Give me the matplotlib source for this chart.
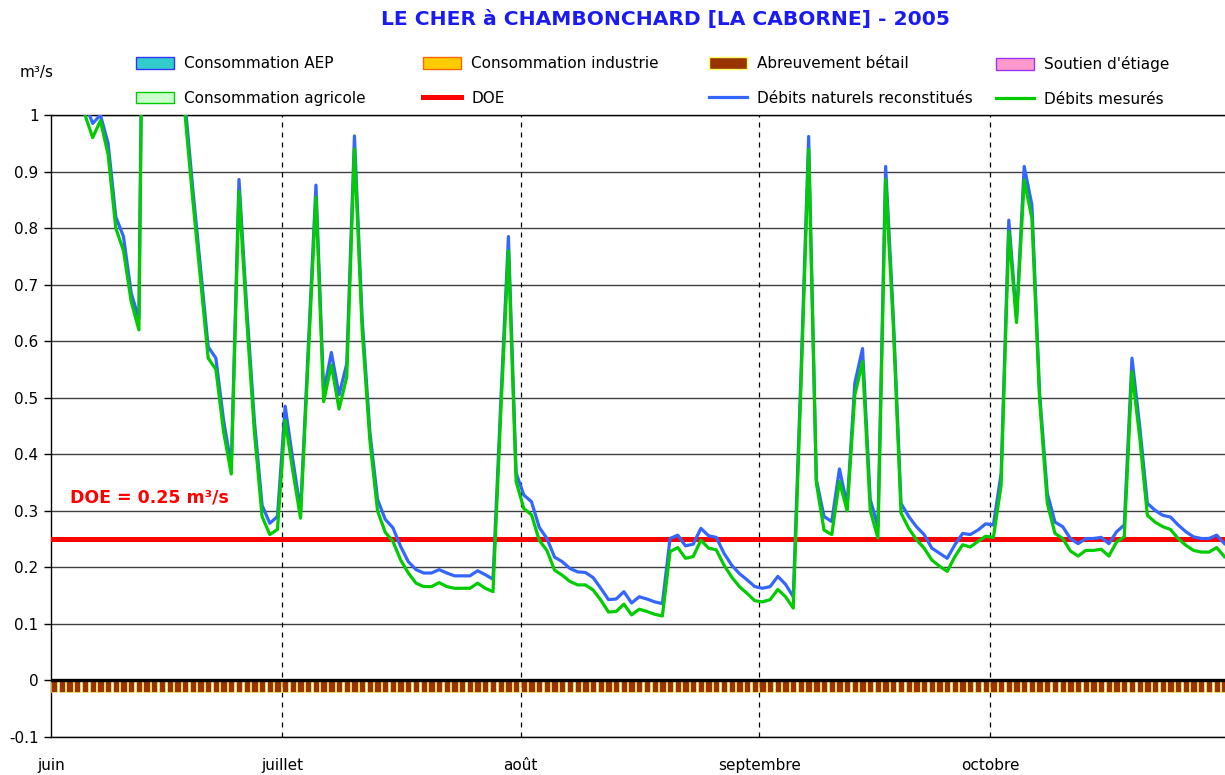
import matplotlib
matplotlib.use("Agg")
import matplotlib.pyplot as plt
import matplotlib.ticker as mticker
from matplotlib.patches import Patch
from matplotlib.lines import Line2D
import pandas as pd

# ── Data ──────────────────────────────────────────────────────────────────────
days = pd.date_range("2005-06-01", "2005-10-31", freq="D") + pd.Timedelta(hours=10)

debits_mesures = [
    1.45, 1.30, 1.18, 1.08, 1.00, 0.96, 0.99, 0.93, 0.80, 0.76,
    0.67, 0.62, 1.90, 2.30, 1.80, 1.45, 1.20, 1.00, 0.85, 0.71,
    0.57, 0.55, 0.44, 0.365, 0.865, 0.64, 0.44, 0.29, 0.258, 0.267,
    0.46, 0.37, 0.287, 0.57, 0.855, 0.493, 0.558, 0.48, 0.537, 0.94,
    0.62, 0.425, 0.30, 0.262, 0.246, 0.213, 0.19, 0.172, 0.166, 0.166,
    0.173, 0.166, 0.163, 0.163, 0.163, 0.172, 0.163, 0.157, 0.47, 0.76,
    0.352, 0.304, 0.293, 0.248, 0.23, 0.195, 0.186, 0.175, 0.169, 0.169,
    0.16, 0.142, 0.121, 0.122, 0.135, 0.116, 0.126, 0.122, 0.117, 0.114,
    0.228, 0.235, 0.216, 0.219, 0.248, 0.234, 0.231, 0.204, 0.183, 0.166,
    0.154, 0.141, 0.139, 0.143, 0.161, 0.148, 0.128, 0.52, 0.939, 0.349,
    0.266, 0.258, 0.352, 0.30, 0.505, 0.564, 0.30, 0.252, 0.886, 0.626,
    0.296, 0.269, 0.249, 0.234, 0.213, 0.202, 0.193, 0.219, 0.24, 0.236,
    0.246, 0.255, 0.253, 0.345, 0.794, 0.633, 0.885, 0.817, 0.496, 0.313,
    0.26, 0.251, 0.229, 0.22, 0.23, 0.23, 0.232, 0.22, 0.245, 0.254,
    0.546, 0.43, 0.292, 0.28, 0.272, 0.267, 0.251, 0.239, 0.23, 0.227,
    0.227, 0.235, 0.219,
]

debits_naturels = [
    1.48, 1.33, 1.21, 1.11, 1.02, 0.985, 1.00, 0.95, 0.82, 0.785,
    0.685, 0.64, 1.93, 2.33, 1.83, 1.48, 1.23, 1.02, 0.87, 0.73,
    0.59, 0.57, 0.46, 0.38, 0.886, 0.66, 0.46, 0.31, 0.278, 0.29,
    0.485, 0.39, 0.30, 0.59, 0.876, 0.51, 0.58, 0.505, 0.56, 0.963,
    0.64, 0.44, 0.32, 0.285, 0.27, 0.237, 0.21, 0.196, 0.19, 0.19,
    0.196, 0.19, 0.185, 0.185, 0.185, 0.194, 0.187, 0.179, 0.49, 0.785,
    0.367, 0.328, 0.316, 0.271, 0.251, 0.218, 0.21, 0.198, 0.192, 0.191,
    0.182, 0.163, 0.143, 0.144, 0.157, 0.137, 0.148, 0.144, 0.139, 0.136,
    0.251, 0.257, 0.238, 0.241, 0.269, 0.256, 0.253, 0.225, 0.204, 0.189,
    0.178, 0.166, 0.163, 0.166, 0.184, 0.17, 0.148, 0.54, 0.962, 0.355,
    0.29, 0.281, 0.374, 0.31, 0.526, 0.587, 0.32, 0.272, 0.909, 0.643,
    0.313, 0.29, 0.272, 0.258, 0.234, 0.225, 0.216, 0.24, 0.26, 0.258,
    0.266, 0.277, 0.275, 0.366, 0.814, 0.64, 0.909, 0.841, 0.508, 0.331,
    0.28, 0.272, 0.251, 0.242, 0.251, 0.251, 0.253, 0.242, 0.263, 0.275,
    0.57, 0.45, 0.313, 0.301, 0.292, 0.289, 0.275, 0.263, 0.254, 0.251,
    0.251, 0.257, 0.242,
]

abreuvement_betail = [-0.0205] * len(days)
doe = 0.25

month_starts = pd.to_datetime(["2005-06-01", "2005-07-01", "2005-08-01",
                               "2005-09-01", "2005-10-01"])
month_labels = ["juin", "juillet", "août", "septembre", "octobre"]
y_ticks = [-0.1, 0, 0.1, 0.2, 0.3, 0.4, 0.5, 0.6, 0.7, 0.8, 0.9, 1.0]

title = "LE CHER à CHAMBONCHARD [LA CABORNE] - 2005"

# ── Figure ────────────────────────────────────────────────────────────────────
plt.rcParams["font.family"] = ["DejaVu Sans"]
fig = plt.figure(figsize=(12.25, 7.75), dpi=100)
ax = fig.add_axes([51 / 1225, 1 - 737 / 775, 1 - 51 / 1225, (737 - 115) / 775])

ax.bar(days, abreuvement_betail, width=0.82, color="#993300",
       edgecolor="#FFFF66", linewidth=0.45, zorder=3)
ax.axhline(doe, color="#FF0000", linewidth=3.6, zorder=4)
ax.plot(days, debits_naturels, color="#3366FF", linewidth=2.3, zorder=5)
ax.plot(days, debits_mesures, color="#00CC00", linewidth=2.3, zorder=6)
ax.axhline(0, color="black", linewidth=2.4, zorder=7)

for m in month_starts[1:]:
    ax.axvline(m, color="black", linewidth=0.9, dashes=(4, 4), zorder=2)

ax.set_xlim(month_starts[0], month_starts[0] + pd.Timedelta(days=152.5))
ax.set_ylim(-0.1, 1.0)
ax.set_yticks(y_ticks)
ax.yaxis.set_major_formatter(mticker.FuncFormatter(lambda v, _: f"{v:g}"))
ax.yaxis.grid(True, color="#404040", linewidth=1, zorder=1)
ax.set_axisbelow(True)
ax.set_xticks(month_starts)
ax.set_xticklabels(month_labels)
ax.tick_params(axis="x", length=0, pad=15, labelsize=11)
ax.tick_params(axis="y", length=5, width=1, pad=4, labelsize=11)
for side in ("left", "top", "bottom"):
    ax.spines[side].set_color("black")
    ax.spines[side].set_linewidth(1)
ax.spines["right"].set_visible(False)

ax.text(19 / 1174, (737 - 497) / 622, "DOE = 0.25 m³/s", transform=ax.transAxes,
        color="#FF0000", fontsize=12.5, fontweight="bold", va="center", ha="left")

fig.text(665 / 1225, 1 - 20 / 775, title, color="#1A1AF5", fontsize=14.6,
         fontweight="bold", ha="center", va="center")
fig.text(20 / 1225, 1 - 73 / 775, "m³/s", fontsize=11, ha="left", va="center")

# Legend: four evenly spaced columns, two rows each
columns = [
    [Patch(facecolor="#33CCCC", edgecolor="#3333FF", label="Consommation AEP"),
     Patch(facecolor="#CCFFCC", edgecolor="#00CC00", label="Consommation agricole")],
    [Patch(facecolor="#FFCC00", edgecolor="#FF6600", label="Consommation industrie"),
     Line2D([], [], color="#FF0000", linewidth=3.6, label="DOE")],
    [Patch(facecolor="#993300", edgecolor="#FFFF66", label="Abreuvement bétail"),
     Line2D([], [], color="#3366FF", linewidth=2.3, label="Débits naturels reconstitués")],
    [Patch(facecolor="#FF99CC", edgecolor="#9933FF", label="Soutien d'étiage"),
     Line2D([], [], color="#00CC00", linewidth=2.3, label="Débits mesurés")],
]
col_x = [136, 423, 709, 996]
for x0, handles in zip(col_x, columns):
    fig.legend(handles=handles, loc="upper left",
               bbox_to_anchor=(x0 / 1225, 1 - 56 / 775), frameon=False,
               fontsize=11, handlelength=2.5, handleheight=0.8,
               handletextpad=0.65, labelspacing=1.3, borderpad=0,
               borderaxespad=0)

fig.savefig("out.png", dpi=100)
